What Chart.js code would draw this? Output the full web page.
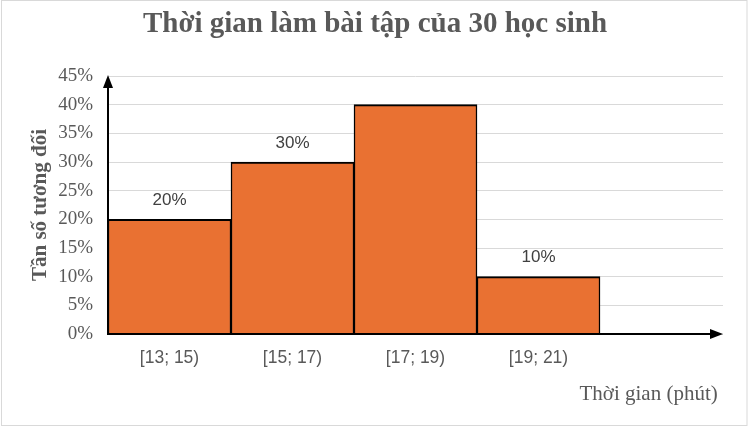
<!DOCTYPE html>
<html><head><meta charset="utf-8">
<script src="https://cdn.jsdelivr.net/npm/chart.js@4/dist/chart.umd.min.js"></script>
<style>html,body{margin:0;padding:0;background:#fff}#wrap{width:748px;height:427px;position:relative}</style>
</head><body><div id="wrap"><canvas id="c"></canvas></div>
<script>
const categories = ['[13; 15)', '[15; 17)', '[17; 19)', '[19; 21)', ''];
const values = [20, 30, 40, 10, null];
const dataLabels = ['20%', '30%', '', '10%', ''];
const yTicks = [0, 5, 10, 15, 20, 25, 30, 35, 40, 45];
const titleText = 'Thời gian làm bài tập của 30 học sinh';
const yTitle = 'Tần số tương đối';
const xTitle = 'Thời gian (phút)';

const frame = {
  id: 'frame',
  beforeDraw(chart) {
    const c = chart.ctx;
    c.save();
    c.fillStyle = '#fff';
    c.fillRect(0, 0, chart.width, chart.height);
    c.strokeStyle = '#d9d9d9';
    c.lineWidth = 1;
    c.strokeRect(1.5, 0.5, chart.width - 2.5, chart.height - 2);
    c.font = 'bold 29px "Liberation Serif", "Times New Roman", serif';
    c.fillStyle = '#595959'; c.textAlign = 'center'; c.textBaseline = 'middle';
    c.fillText(titleText, chart.width / 2 + 1, 25);
    c.restore();
  },
  afterDatasetsDraw(chart) {
    const c = chart.ctx;
    const xs = chart.scales.x, ys = chart.scales.y;
    const x0 = xs.left, y0 = ys.getPixelForValue(0), yTop = ys.getPixelForValue(45), xEnd = xs.right;
    c.save();
    c.strokeStyle = '#000'; c.fillStyle = '#000'; c.lineWidth = 2;
    c.beginPath(); c.moveTo(x0, y0 + 1); c.lineTo(x0, yTop + 8); c.stroke();
    c.beginPath(); c.moveTo(x0, yTop - 1); c.lineTo(x0 - 5, yTop + 12); c.lineTo(x0 + 5, yTop + 12); c.closePath(); c.fill();
    c.beginPath(); c.moveTo(x0 - 1, y0); c.lineTo(xEnd - 8, y0); c.stroke();
    c.beginPath(); c.moveTo(xEnd, y0); c.lineTo(xEnd - 13, y0 - 5); c.lineTo(xEnd - 13, y0 + 5); c.closePath(); c.fill();
    c.font = '17px "Liberation Sans", Arial, sans-serif';
    c.fillStyle = '#404040'; c.textAlign = 'center'; c.textBaseline = 'middle';
    const meta = chart.getDatasetMeta(0);
    meta.data.forEach((bar, i) => {
      if (!dataLabels[i]) return;
      c.fillText(dataLabels[i], bar.x, bar.y - 19);
    });
    c.restore();
  }
};

new Chart(document.getElementById('c'), {
  type: 'bar',
  data: {
    labels: categories,
    datasets: [{
      data: values,
      backgroundColor: '#E97132',
      borderColor: '#000',
      borderWidth: {top: 2, left: 1.5, right: 1.5, bottom: 0},
      borderSkipped: false,
      barPercentage: 1,
      categoryPercentage: 1
    }]
  },
  plugins: [frame],
  options: {
    responsive: true,
    maintainAspectRatio: false,
    animation: false,
    devicePixelRatio: 1,
    layout: {padding: {left: 0, right: 25, top: 76, bottom: 0}},
    plugins: {
      legend: {display: false},
      tooltip: {enabled: false},
      title: {display: false}
    },
    scales: {
      x: {
        grid: {display: false, drawTicks: false},
        border: {display: false},
        ticks: {color: '#595959', font: {family: '"Liberation Sans", Arial, sans-serif', size: 17.5}, padding: 14, maxRotation: 0},
        title: {display: true, text: xTitle + ' ', align: 'end', color: '#595959',
          font: {family: '"Liberation Serif", "Times New Roman", serif', size: 21}, padding: {top: 0, bottom: 20}},
        afterFit(s) { s.height = 93; }
      },
      y: {
        min: 0, max: 45,
        afterBuildTicks(s) { s.ticks = yTicks.map(v => ({value: v})); },
        grid: {color: '#d9d9d9', lineWidth: 1, drawTicks: false},
        border: {display: false},
        ticks: {color: '#595959', font: {family: '"Liberation Serif", "Times New Roman", serif', size: 19}, padding: 15,
          callback: v => v + '%'},
        title: {display: true, text: yTitle, color: '#595959',
          font: {family: '"Liberation Serif", "Times New Roman", serif', size: 21, weight: 'bold'}, padding: {top: 28, bottom: 0}},
        afterFit(s) { s.width = 108; }
      }
    }
  }
});
</script></body></html>
